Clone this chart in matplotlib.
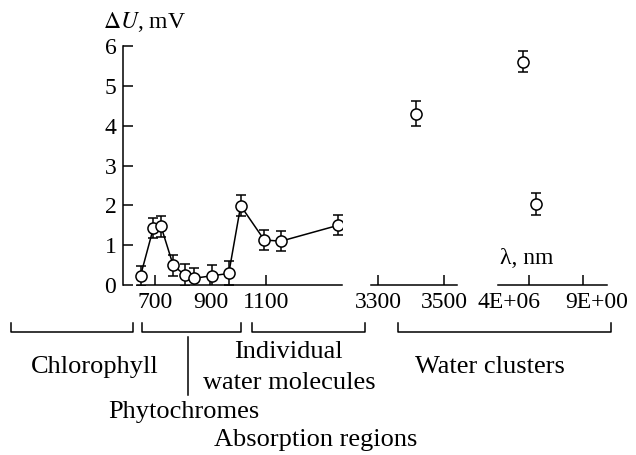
import numpy as np
import matplotlib
matplotlib.use("Agg")
import matplotlib.pyplot as plt
from matplotlib.lines import Line2D

# data
# visible range, nm
wl_vis = [648, 694, 722, 766, 808, 842, 904, 966, 1009, 1094, 1154, 1361]
du_vis = [0.23, 1.42, 1.47, 0.49, 0.25, 0.17, 0.23, 0.29, 1.99, 1.13, 1.10, 1.50]
err_vis = [0.25, 0.25, 0.27, 0.26, 0.27, 0.25, 0.27, 0.30, 0.27, 0.26, 0.25, 0.25]

# IR range, nm
wl_ir = [3414]
du_ir = [4.30]
err_ir = [0.32]

# last segment (positions relative to its two ticks)
pos_far = [-0.105, 0.123]
du_far = [5.61, 2.03]
err_far = [0.27, 0.28]

ticks_vis = [700, 900, 1100]
ticks_ir = [3300, 3500]
ticks_far = [0, 1]
far_labels = ["4E+06", "9E+00"]

plt.rcParams["font.family"] = ["Liberation Serif", "DejaVu Serif"]
plt.rcParams["mathtext.fontset"] = "stix"

W, H = 636, 455
fig = plt.figure(figsize=(W / 100, H / 100), dpi=100)

def px_axes(left, right, bottom=285, top=46):
    return fig.add_axes([left / W, 1 - bottom / H, (right - left) / W, (bottom - top) / H])

ax1 = px_axes(123.3, 341.7)
ax2 = px_axes(370.7, 457.3)
ax3 = px_axes(498.3, 607.3)

style = dict(fmt="-", color="black", marker="o", markersize=8, markerfacecolor="white",
             markeredgecolor="black", markeredgewidth=1.1, linewidth=1.1,
             elinewidth=1.1, capsize=3.5, capthick=1.1)

ax1.errorbar(wl_vis, du_vis, yerr=err_vis, **style)
ax2.errorbar(wl_ir, du_ir, yerr=err_ir, **style)
ax3.errorbar(pos_far, du_far, yerr=err_far, **{**style, "linestyle": "none"})

ax1.set_xlim(586, 1373)
ax2.set_xlim(3277, 3540)
ax3.set_xlim(-0.565, 1.442)

tick_fs = 17
for ax in (ax1, ax2, ax3):
    ax.set_ylim(0, 6)
    ax.patch.set_visible(False)
    for s in ("top", "right"):
        ax.spines[s].set_visible(False)
    ax.spines["bottom"].set_linewidth(1.1)
    ax.tick_params(axis="x", direction="in", length=7, width=1.1, pad=5, labelsize=tick_fs)

ax1.spines["bottom"].set_bounds(634, 1373)
ax1.spines["left"].set_linewidth(1.1)
ax1.set_yticks(range(7))
ax1.tick_params(axis="y", direction="in", length=7, width=1.1, pad=5, labelsize=tick_fs)
ax1.set_xticks(ticks_vis)

for ax in (ax2, ax3):
    ax.spines["left"].set_visible(False)
    ax.set_yticks([])

ax2.set_xticks(ticks_ir)
ax3.set_xticks(ticks_far, ["", ""])
ax3.set_xticks([-0.374, 1.247], far_labels, minor=True)
ax3.tick_params(axis="x", which="minor", length=0, pad=5, labelsize=tick_fs)

fig.text(103 / W, 1 - 22 / H, r"$\Delta U$, mV", fontsize=17, ha="left", va="center")
fig.text(500 / W, 1 - 258 / H, "λ, nm", fontsize=17, ha="left", va="center")

# brackets under the axes
for x0, x1 in [(11, 132.7), (141.7, 240.7), (251.7, 365), (397.7, 611)]:
    xs = np.array([x0, x0, x1, x1]) / W
    ys = 1 - np.array([322.7, 331.7, 331.7, 322.7]) / H
    fig.add_artist(Line2D(xs, ys, color="black", linewidth=1.1))
fig.add_artist(Line2D([187.7 / W] * 2, [1 - 337.3 / H, 1 - 395 / H], color="black", linewidth=1.1))

fs = 19
fig.text(95 / W, 1 - 367 / H, "Chlorophyll", fontsize=fs, ha="center", va="center")
fig.text(288 / W, 1 - 352 / H, "Individual", fontsize=fs, ha="center", va="center")
fig.text(289 / W, 1 - 383 / H, "water molecules", fontsize=fs, ha="center", va="center")
fig.text(490 / W, 1 - 367 / H, "Water clusters", fontsize=fs, ha="center", va="center")
fig.text(183.5 / W, 1 - 412 / H, "Phytochromes", fontsize=fs, ha="center", va="center")
fig.text(315.7 / W, 1 - 440 / H, "Absorption regions", fontsize=fs, ha="center", va="center")

fig.savefig("out.png", dpi=100)
